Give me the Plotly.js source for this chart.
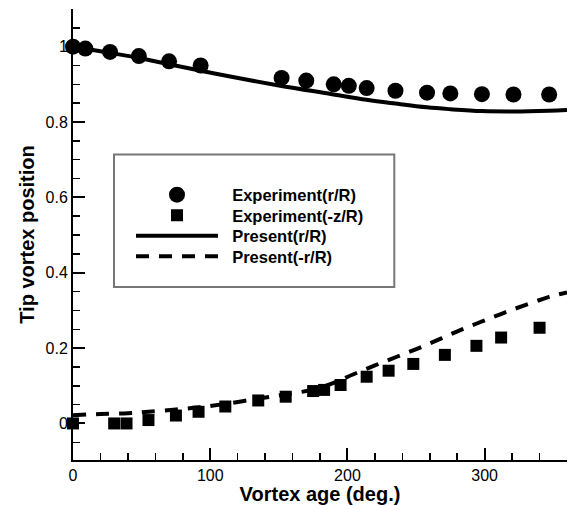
<!DOCTYPE html>
<html>
<head>
<meta charset="utf-8">
<script src="https://cdn.plot.ly/plotly-3.0.1.min.js"></script>
<style>html,body{margin:0;padding:0;background:#fff;}#chart{width:582px;height:505px;}</style>
</head>
<body>
<div id="chart"></div>
<script>
// Experiment (r/R) — circles
const expRAge = [0, 9, 27, 48, 70, 93, 152, 170, 190, 201, 214, 235, 258, 275, 298, 321, 347];
const expRVal = [1.0, 0.995, 0.986, 0.975, 0.961, 0.950, 0.917, 0.910, 0.900, 0.896, 0.890, 0.883, 0.878, 0.876, 0.874, 0.873, 0.873];
// Experiment (-z/R) — squares
const expZAge = [0, 30, 39, 55, 75, 91.5, 111, 135, 155, 175, 183, 195, 214, 230, 248, 271, 294, 312, 340];
const expZVal = [0, 0, 0, 0.009, 0.021, 0.031, 0.045, 0.061, 0.071, 0.086, 0.089, 0.102, 0.124, 0.140, 0.158, 0.182, 0.206, 0.228, 0.254];
// Present (r/R) — solid line
const presRAge = [0, 20, 48, 93, 150, 187, 214, 235, 258, 275, 298, 321, 347, 360];
const presRVal = [1.0, 0.988, 0.970, 0.936, 0.897, 0.875, 0.859, 0.849, 0.839, 0.834, 0.829, 0.828, 0.830, 0.832];
// Present (-r/R) — dashed line
const presZAge = [0, 20, 40, 55, 75, 92, 111, 135, 155, 175, 190, 204, 220, 236, 252, 268, 283, 299, 315, 331, 347, 360];
const presZVal = [0.022, 0.025, 0.027, 0.031, 0.037, 0.043, 0.052, 0.066, 0.077, 0.090, 0.108, 0.130, 0.154, 0.177, 0.200, 0.225, 0.249, 0.272, 0.295, 0.316, 0.336, 0.348];

const seriesNames = ['Experiment(r/R)', 'Experiment(-z/R)', 'Present(r/R)', 'Present(-r/R)'];
const xTitle = 'Vortex age (deg.)';
const yTitle = 'Tip vortex position';

const FONT = 'Liberation Sans, Arial, Helvetica, sans-serif';
const pad = '\u00a0\u00a0';

const traces = [
  {x: expRAge, y: expRVal, name: pad + seriesNames[0], type: 'scatter', mode: 'markers',
   marker: {symbol: 'circle', size: 16, color: '#000'}, cliponaxis: false, legend: 'legend'},
  {x: expZAge, y: expZVal, name: pad + seriesNames[1], type: 'scatter', mode: 'markers',
   marker: {symbol: 'square', size: 12, color: '#000'}, cliponaxis: false, legend: 'legend2'},
  {x: presRAge, y: presRVal, name: pad + seriesNames[2], type: 'scatter', mode: 'lines',
   line: {color: '#000', width: 4, shape: 'spline'}, legend: 'legend3'},
  {x: presZAge, y: presZVal, name: pad + seriesNames[3], type: 'scatter', mode: 'lines',
   line: {color: '#000', width: 4, shape: 'spline', dash: '13px,10px'}, legend: 'legend4'}
];

function leg(y) {
  return {x: 0.1174, y: y, xanchor: 'left', yanchor: 'middle', xref: 'paper', yref: 'paper',
          bgcolor: 'rgba(0,0,0,0)', borderwidth: 0, itemwidth: 82,
          font: {family: FONT, size: 16.5, color: '#000', weight: 'bold'}};
}

const layout = {
  width: 582, height: 505,
  margin: {l: 73, r: 15, t: 9, b: 45},
  paper_bgcolor: '#fff', plot_bgcolor: '#fff',
  showlegend: true,
  legend: leg(0.5876),
  legend2: leg(0.5421),
  legend3: leg(0.4967),
  legend4: leg(0.4512),
  xaxis: {
    range: [0, 360], showgrid: false, zeroline: false,
    showline: true, linewidth: 2, linecolor: '#000',
    ticks: 'inside', ticklen: 12, tickwidth: 2, tickcolor: '#000',
    tick0: 0, dtick: 100,
    minor: {ticks: 'inside', ticklen: 7, tickwidth: 1.5, tickcolor: '#000', dtick: 20, showgrid: false},
    tickfont: {family: FONT, size: 16, color: '#000'},
    title: {text: xTitle, font: {family: FONT, size: 20, color: '#000', weight: 'bold'}, standoff: 2},
    automargin: false
  },
  yaxis: {
    range: [-0.097, 1.1], showgrid: false, zeroline: false,
    showline: true, linewidth: 2, linecolor: '#000',
    ticks: 'inside', ticklen: 12, tickwidth: 2, tickcolor: '#000',
    tick0: 0, dtick: 0.2,
    minor: {ticks: 'inside', ticklen: 7, tickwidth: 1.5, tickcolor: '#000', dtick: 0.05, showgrid: false},
    tickfont: {family: FONT, size: 16, color: '#000'},
    title: {text: yTitle, font: {family: FONT, size: 20, color: '#000', weight: 'bold'}, standoff: 6},
    automargin: false
  },
  shapes: [
    {type: 'rect', xref: 'paper', yref: 'paper', x0: 0.083, x1: 0.6504, y0: 0.3836, y1: 0.6774,
     line: {color: '#777', width: 2}, fillcolor: 'rgba(0,0,0,0)', layer: 'above'}
  ]
};

Plotly.newPlot('chart', traces, layout, {displayModeBar: false, staticPlot: true});
</script>
</body>
</html>
